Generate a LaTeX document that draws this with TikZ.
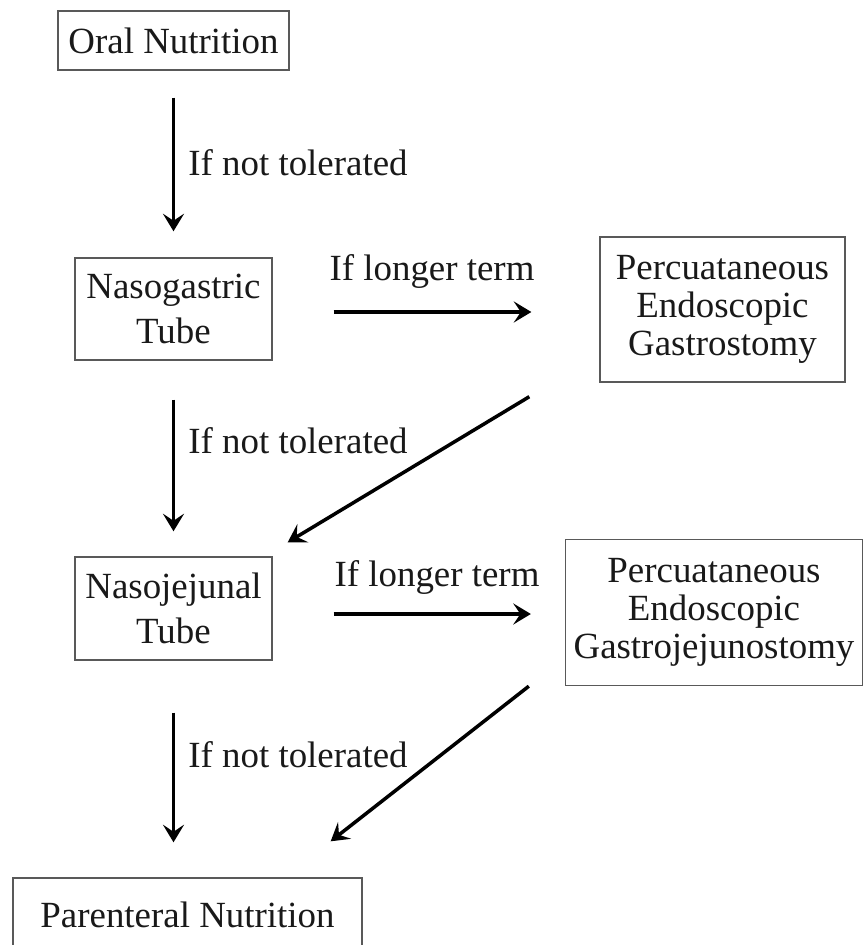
\documentclass[tikz,border=0pt]{standalone}
\usepackage{fontspec}
\setmainfont{Liberation Serif}
\usetikzlibrary{arrows.meta}

\begin{document}
\begin{tikzpicture}[x=0.02cm, y=-0.02cm,
    box/.style={draw=black!65, line width=0.8pt, align=center, inner sep=0pt,
                font=\fontsize{21}{21.5}\selectfont, text=black!90},
    flow/.style={-{Stealth[length=10pt, width=12pt, inset=4pt]}, line width=2pt, black},
    lbl/.style={font=\fontsize{21}{21.5}\selectfont, inner sep=0pt, text=black!90}]
      \clip (0,0) rectangle (865,945);

      % Left column
      \node[box, minimum width=4.62cm, minimum height=1.18cm] (oral) at (173.5,40.5) {Oral Nutrition};
      \node[box, minimum width=3.94cm, minimum height=2.04cm] (ngt) at (173.5,309) {Nasogastric\\[0.14cm]Tube};
      \node[box, minimum width=3.94cm, minimum height=2.06cm] (njt) at (173.5,608.5) {Nasojejunal\\[0.14cm]Tube};
      \node[box, minimum width=6.98cm, minimum height=1.48cm] (pn) at (187.5,915) {Parenteral Nutrition};

      % Right column
      \node[box, minimum width=4.9cm, minimum height=2.9cm] (peg) at (722.5,309.5)
            {Percuataneous\\Endoscopic\\Gastrostomy};
      \node[box, minimum width=5.94cm, minimum height=2.92cm] (pegj) at (714,612.5)
            {Percuataneous\\Endoscopic\\Gastrojejunostomy};

      % If not tolerated
      \draw[flow, shorten <=0.54cm, shorten >=0.52cm] (oral) -- (ngt);
      \draw[flow, shorten <=0.78cm, shorten >=0.5cm] (ngt) -- (njt);
      \draw[flow, shorten <=1.04cm, shorten >=0.7cm] (njt.south) -- (njt.south |- pn.north);
      \node[lbl, anchor=west] (tol1) at (188,163) {If not tolerated};
      \node[lbl, anchor=west] (tol2) at (188,441) {If not tolerated};
      \node[lbl, anchor=west] (tol3) at (188,755) {If not tolerated};

      % If longer term
      \draw[flow, shorten <=1.22cm, shorten >=1.36cm] ([yshift=-0.06cm]ngt.east) -- ([yshift=-0.06cm]ngt.east -| peg.west);
      \draw[flow, shorten <=1.22cm, shorten >=0.68cm] ([yshift=-0.11cm]njt.east) -- ([yshift=-0.11cm]njt.east -| pegj.west);
      \node[lbl] (long1) at (432,271) {If longer term};
      \node[lbl] (long2) at (437,577) {If longer term};

      % back to the next step
      \draw[flow] ([shift={(-70,14)}]peg.south west) -- ([shift={(15,-14)}]njt.north east);
      \draw[flow] ([shift={(-36,0)}]pegj.south west) -- ([shift={(-32,-36)}]pn.north east);

\end{tikzpicture}
\end{document}
